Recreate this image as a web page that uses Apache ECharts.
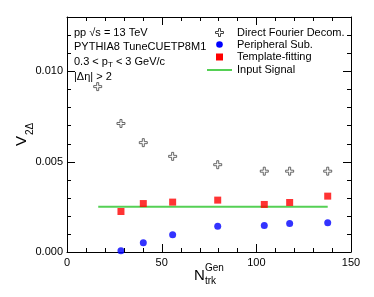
<!DOCTYPE html>
<html><head><meta charset="utf-8">
<script src="https://cdn.jsdelivr.net/npm/echarts@6/dist/echarts.min.js"></script>
<style>html,body{margin:0;padding:0;background:#fff}#c{width:374px;height:297px}</style>
</head><body><div id="c"></div>
<script>
const nchX = [16.2, 28.5, 40.3, 55.8, 79.6, 104.2, 117.6, 137.7];
const directFourier = [0.00915, 0.00711, 0.00605, 0.00529, 0.00483, 0.00447, 0.00447, 0.00447];
const subX = [28.5, 40.3, 55.8, 79.6, 104.2, 117.6, 137.7];
const peripheral = [0.00007, 0.00051, 0.00095, 0.00142, 0.00147, 0.00158, 0.00162];
const template = [0.00224, 0.00268, 0.00276, 0.00287, 0.00263, 0.00274, 0.00309];
const inputX = [16.5, 137.7];
const inputSignal = [0.0025, 0.0025];
const xMajorTicks = [0, 50, 100, 150];
const xMinorTicks = [10, 20, 30, 40, 60, 70, 80, 90, 110, 120, 130, 140];
const yMajorTicks = [0, 0.005, 0.010];
const yMinorTicks = [0.001, 0.002, 0.003, 0.004, 0.006, 0.007, 0.008, 0.009, 0.011, 0.012];
const yTickLabels = ['0.000', '0.005', '0.010'];
const xMax = 150, yMax = 0.013;

const font = 'Liberation Sans, Arial, sans-serif';
const chart = echarts.init(document.getElementById('c'));
const pair = (xs, ys) => xs.map((x, i) => [x, ys[i]]);
const crossPath = 'path://M3,0H5V3H8V5H5V8H3V5H0V3H3Z';
const px = v => Math.round(v) + 0.5;

const ax = (pos, extra) => Object.assign({type: 'value', position: pos, splitLine: {show: false},
  axisLine: {show: true, onZero: false, lineStyle: {color: '#000', width: 1}},
  axisTick: {show: false}, minorTick: {show: false}}, extra);
const xLabel = {show: true, color: '#000', fontFamily: font, fontSize: 11, margin: 5,
  formatter: v => xMajorTicks.includes(v) ? String(v) : ''};
const yLabel = {show: true, color: '#000', fontFamily: font, fontSize: 11, margin: 4,
  formatter: v => { const s = v.toFixed(3); return yTickLabels.includes(s) ? s : ''; }};

function tickSeries(values, isX, len) {
  return {type: 'custom', silent: true, clip: false, z: 5,
    data: values.map(v => isX ? [v, 0] : [0, v]),
    renderItem: (params, api) => {
      const st = {stroke: '#000', lineWidth: 1};
      if (isX) {
        const v = api.value(0);
        const b = api.coord([v, 0]), t = api.coord([v, yMax]);
        const x = px(b[0]);
        return {type: 'group', children: [
          {type: 'line', shape: {x1: x, y1: b[1], x2: x, y2: b[1] - len}, style: st},
          {type: 'line', shape: {x1: x, y1: t[1], x2: x, y2: t[1] + len}, style: st}]};
      }
      const v = api.value(1);
      const l = api.coord([0, v]), r = api.coord([xMax, v]);
      const y = px(l[1]);
      return {type: 'group', children: [
        {type: 'line', shape: {x1: l[0], y1: y, x2: l[0] + len, y2: y}, style: st},
        {type: 'line', shape: {x1: r[0], y1: y, x2: r[0] - len, y2: y}, style: st}]};
    }};
}

const cx = 219.5, cy = 32.5;
const crossPts = [[-1,-4],[1,-4],[1,-1],[4,-1],[4,1],[1,1],[1,4],[-1,4],[-1,1],[-4,1],[-4,-1],[-1,-1]].map(p => [cx + p[0], cy + p[1]]);
const txt = (l, t, s, extra) => ({type: 'text', left: l, top: t, style: Object.assign({text: s, fontSize: 11, fontFamily: font, fill: '#000'}, extra || {})});

chart.setOption({
  animation: false,
  grid: {left: 67, right: 23, top: 17, bottom: 45},
  xAxis: [ax('bottom', {min: 0, max: xMax, interval: 50, axisLabel: xLabel}),
          ax('top', {min: 0, max: xMax, interval: 50, axisLabel: {show: false}})],
  yAxis: [ax('left', {min: 0, max: yMax, interval: 0.005, axisLabel: yLabel}),
          ax('right', {min: 0, max: yMax, interval: 0.005, axisLabel: {show: false}})],
  series: [
    tickSeries(xMajorTicks, true, 8),
    tickSeries(xMinorTicks, true, 4),
    tickSeries(yMajorTicks, false, 8),
    tickSeries(yMinorTicks, false, 4),
    {type: 'line', data: pair(inputX, inputSignal), symbol: 'none', lineStyle: {color: '#55d055', width: 2}, z: 1},
    {type: 'scatter', data: pair(nchX, directFourier), symbol: crossPath, symbolSize: 8,
      itemStyle: {color: '#fff', borderColor: '#444', borderWidth: 1}},
    {type: 'scatter', data: pair(subX, peripheral), symbol: 'circle', symbolSize: 7, itemStyle: {color: '#0000ff'}},
    {type: 'scatter', data: pair(subX, template), symbol: 'rect', symbolSize: 7, itemStyle: {color: '#ff0000'}}
  ],
  graphic: [
    txt(74, 27, 'pp \u221As = 13 TeV'),
    txt(74, 41, 'PYTHIA8 TuneCUETP8M1'),
    {type: 'text', left: 74, top: 56, style: {text: '{a|0.3 < p}{b|T}{a| < 3 GeV/c}', rich: {
      a: {fontSize: 11, fontFamily: font, fill: '#000'},
      b: {fontSize: 8, fontFamily: font, fill: '#000', padding: [6, 0, 0, 0]}}}},
    txt(74, 71, '|\u0394\u03b7| > 2'),
    {type: 'polygon', shape: {points: crossPts}, style: {fill: '#fff', stroke: '#444', lineWidth: 1}},
    {type: 'circle', shape: {cx: 219.5, cy: 44.5, r: 3.3}, style: {fill: '#0000ff'}},
    {type: 'rect', shape: {x: 216, y: 53.5, width: 7, height: 7}, style: {fill: '#ff0000'}},
    {type: 'line', shape: {x1: 207, y1: 70, x2: 232, y2: 70}, style: {stroke: '#55d055', lineWidth: 2}},
    txt(237, 27, 'Direct Fourier Decom.'),
    txt(237, 39, 'Peripheral Sub.'),
    txt(237, 51, 'Template-fitting'),
    txt(237, 64, 'Input Signal'),
    txt(194, 268, 'N', {fontSize: 15}),
    txt(205, 263, 'Gen', {fontSize: 10}),
    txt(205, 276, 'trk', {fontSize: 10}),
    {type: 'text', x: 14, y: 146, rotation: Math.PI / 2, style: {text: 'V', fontSize: 15, fontFamily: font, fill: '#000'}},
    {type: 'text', x: 25, y: 135, rotation: Math.PI / 2, style: {text: '2\u0394', fontSize: 10, fontFamily: font, fill: '#000'}}
  ]
});
</script></body></html>
